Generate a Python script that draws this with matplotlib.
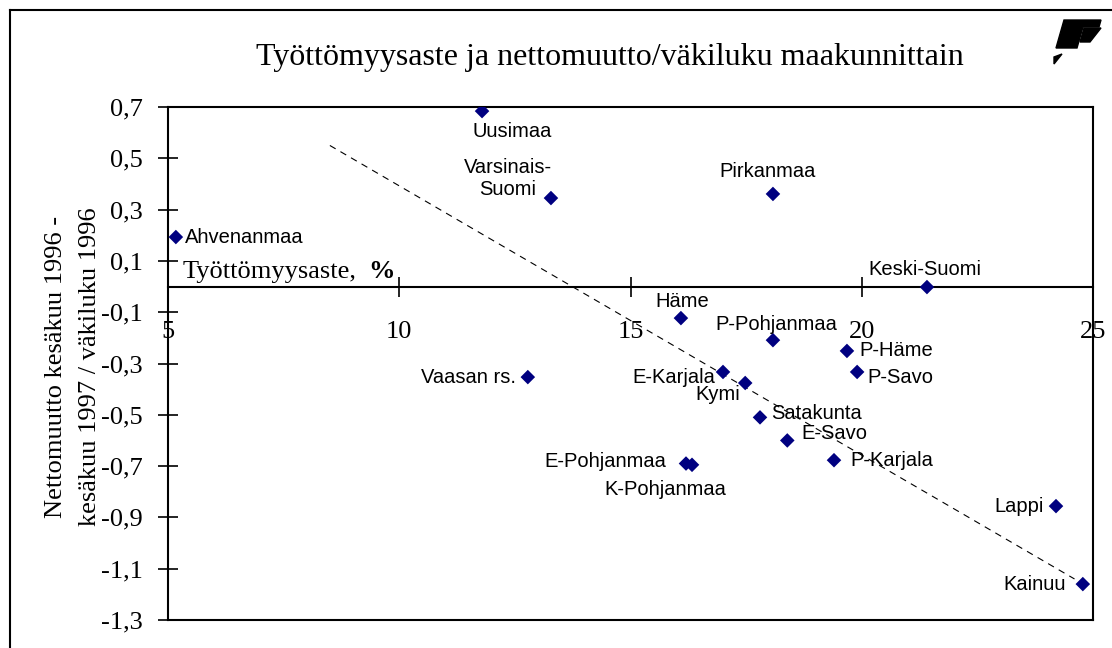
import numpy as np
import matplotlib.pyplot as plt
from matplotlib.patches import Polygon
from matplotlib.lines import Line2D

# Data: unemployment rate (%) vs net migration / population, by region
regions = ["Ahvenanmaa", "Uusimaa", "Varsinais-\nSuomi", "Pirkanmaa", "Keski-Suomi",
           "Häme", "P-Pohjanmaa", "P-Häme", "P-Savo", "E-Karjala", "Kymi",
           "Vaasan rs.", "Satakunta", "E-Savo", "P-Karjala", "E-Pohjanmaa",
           "K-Pohjanmaa", "Lappi", "Kainuu"]
unemployment = [5.17, 11.79, 13.28, 18.08, 21.41, 16.09, 18.08, 19.68, 19.90, 17.00,
                17.48, 12.78, 17.80, 18.39, 19.40, 16.20, 16.33, 24.20, 24.78]
net_migration = [0.193, 0.684, 0.345, 0.361, -0.002, -0.123, -0.209, -0.251, -0.333,
                 -0.333, -0.376, -0.353, -0.51, -0.60, -0.677, -0.69, -0.695, -0.856, -1.16]

# dashed trend line end points
trend_x = [8.5, 24.6]
trend_y = [0.55, -1.14]

xticks = [5, 10, 15, 20, 25]
yticks = [0.7, 0.5, 0.3, 0.1, -0.1, -0.3, -0.5, -0.7, -0.9, -1.1, -1.3]

# label placement (offset in pixels, ha)
label_pos = {
    "Ahvenanmaa": (9, 0, "left"),
    "Uusimaa": (30, -20, "center"),
    "Varsinais-\nSuomi": (-43, 20, "center"),
    "Pirkanmaa": (-5, 22, "center"),
    "Keski-Suomi": (-2, 18, "center"),
    "Häme": (1, 17, "center"),
    "P-Pohjanmaa": (3, 16, "center"),
    "P-Häme": (12, 0, "left"),
    "P-Savo": (10, -6, "left"),
    "E-Karjala": (-8, -6, "right"),
    "Kymi": (-5, -12, "right"),
    "Vaasan rs.": (-12, 0, "right"),
    "Satakunta": (11, 4, "left"),
    "E-Savo": (14, 7, "left"),
    "P-Karjala": (16, 0, "left"),
    "E-Pohjanmaa": (-20, 2, "right"),
    "K-Pohjanmaa": (-27, -25, "center"),
    "Lappi": (-12, 0, "right"),
    "Kainuu": (-17, 0, "right"),
}

W, H = 1112, 648
fig = plt.figure(figsize=(W / 100, H / 100), dpi=100)
serif = "Liberation Serif"
sans = "Liberation Sans"

# outer frame (top and left edges visible)
fig.add_artist(Line2D([10 / W, 1], [1 - 10 / H, 1 - 10 / H], color="black", lw=1.5,
                      transform=fig.transFigure))
fig.add_artist(Line2D([10 / W, 10 / W], [0, 1 - 10 / H], color="black", lw=1.5,
                      transform=fig.transFigure))

# logo in the top right corner
def px(points):
    return [(x / W, 1 - y / H) for x, y in points]

fig.add_artist(Polygon(px([(1064, 20), (1101, 20), (1099, 27), (1083, 27), (1077, 48), (1056, 48)]),
                       closed=True, color="black", transform=fig.transFigure))
fig.add_artist(Polygon(px([(1084, 28), (1101, 28), (1090, 42), (1080, 42)]),
                       closed=True, color="black", transform=fig.transFigure))
fig.add_artist(Polygon(px([(1054, 57), (1062, 54), (1054, 64)]),
                       closed=True, color="black", transform=fig.transFigure))

ax = fig.add_axes([168 / W, (H - 620) / H, 925 / W, 513 / H])
ax.set_xlim(5, 25)
ax.set_ylim(-1.3, 0.7)

ax.plot(trend_x, trend_y, color="black", lw=0.8, linestyle=(0, (6, 5)))
ax.scatter(unemployment, net_migration, marker="D", s=55, color="#000080", zorder=3,
           edgecolors="none")

for name, xv, yv in zip(regions, unemployment, net_migration):
    dx, dy, ha = label_pos[name]
    ax.annotate(name, (xv, yv), xytext=(dx, dy), textcoords="offset pixels",
                ha=ha, va="center", fontsize=14.5, family=sans, multialignment="center")

for sp in ax.spines.values():
    sp.set_linewidth(1.5)

ax.set_xticks([])
ax.set_yticks(yticks)
ax.set_yticklabels([f"{v:.1f}".replace(".", ",") for v in yticks], family=serif, fontsize=19)
ax.tick_params(axis="y", direction="inout", length=14, width=1.2, pad=11)

# x axis crossing at y = 0
sec = ax.secondary_xaxis(0.65)
sec.set_alignment("bottom")
sec.set_xticks(xticks)
sec.set_xticklabels([str(v) for v in xticks], family=serif, fontsize=19)
sec.spines["bottom"].set_linewidth(1.5)
sec.tick_params(direction="inout", length=14, width=1.2, pad=18)

ax.text(15 / 925, 0.65 + 4 / 513, "Työttömyysaste,", transform=ax.transAxes,
        family=serif, fontsize=19, ha="left", va="bottom")
ax.text(200 / 925, 0.65 + 4 / 513, "%", transform=ax.transAxes,
        family=serif, fontsize=19, fontweight="bold", ha="left", va="bottom")

fig.text(610 / W, 1 - 57 / H, "Työttömyysaste ja nettomuutto/väkiluku maakunnittain",
         family=serif, fontsize=23, ha="center", va="center")
fig.text(73 / W, 1 - 367 / H, "Nettomuutto kesäkuu 1996 -\nkesäkuu 1997 / väkiluku 1996",
         family=serif, fontsize=19, ha="center", va="center", rotation=90,
         linespacing=1.75)

fig.savefig("out.png", dpi=100)
